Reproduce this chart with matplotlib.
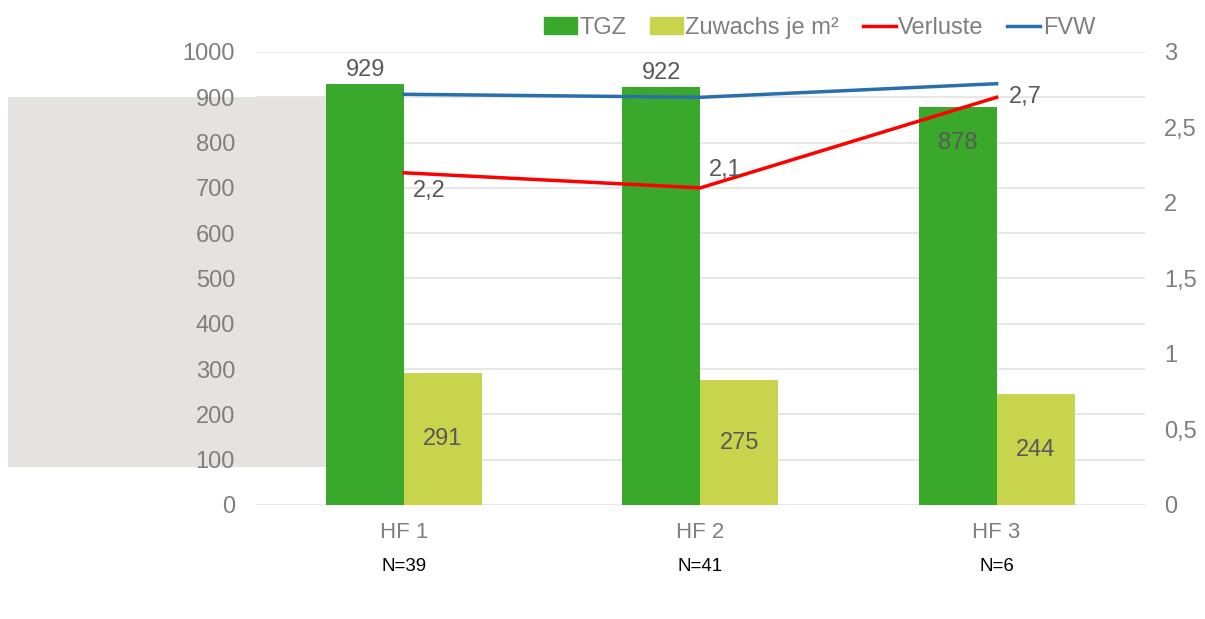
import matplotlib.pyplot as plt
from matplotlib.patches import Rectangle
from matplotlib.lines import Line2D
from matplotlib.patches import Patch

categories = ["HF 1", "HF 2", "HF 3"]
n_labels = ["N=39", "N=41", "N=6"]
tgz = [929, 922, 878]
zuwachs = [291, 275, 244]
verluste = [2.2, 2.1, 2.7]
fvw = [2.72, 2.70, 2.79]

green = "#3aa82a"
yellow = "#c8d44b"
red = "#ff0000"
blue = "#2a6fad"
grey_txt = "#7f7f7f"
lbl_txt = "#595959"

plt.rcParams["font.family"] = ["Liberation Sans", "DejaVu Sans"]

fig = plt.figure(figsize=(12.05, 6.19), dpi=100, facecolor="white")

# grey block behind the left part
fig.patches.append(Rectangle((0.0066, 0.2456), 0.264, 0.598, transform=fig.transFigure,
                             facecolor="#e4e3df", edgecolor="none", zorder=-5))

ax = fig.add_axes([0.2124, 0.1842, 0.7376, 0.7318])
ax.patch.set_alpha(0)
ax2 = ax.twinx()
ax2.patch.set_alpha(0)

x = list(range(len(categories)))
w = 0.263
ax.bar([i - w / 2 for i in x], tgz, width=w, color=green, zorder=2)
ax.bar([i + w / 2 for i in x], zuwachs, width=w, color=yellow, zorder=2)

ax.set_xlim(-0.5, 2.5)
ax.set_ylim(0, 1000)
ax.set_yticks(range(0, 1001, 100))
ax.yaxis.grid(True, color="#e3e3e3", linewidth=1.2, zorder=0)
ax.set_axisbelow(True)
for s in ax.spines.values():
    s.set_visible(False)
for s in ax2.spines.values():
    s.set_visible(False)
ax.tick_params(axis="y", length=0, labelsize=17, labelcolor=grey_txt, pad=15)
ax.set_xticks(x)
ax.set_xticklabels(categories)
ax.tick_params(axis="x", length=0, labelsize=16, labelcolor=grey_txt, pad=12)

# bar labels
for i, v in enumerate(tgz):
    if i < 2:
        ax.text(i - w / 2, v + 8, str(v), ha="center", va="bottom", fontsize=17, color=lbl_txt)
    else:
        ax.text(i - w / 2, v - 80, str(v), ha="center", va="center", fontsize=17, color=lbl_txt)
for i, v in enumerate(zuwachs):
    ax.text(i + w / 2, v / 2, str(v), ha="center", va="center", fontsize=17, color=lbl_txt)

for i, t in enumerate(n_labels):
    ax.text(i, -0.135, t, transform=ax.get_xaxis_transform(), ha="center", va="center",
            fontsize=13.5, color="black", family=["Liberation Sans Narrow", "Liberation Sans"])

ax2.plot(x, fvw, color=blue, linewidth=2.5, zorder=3)
ax2.plot(x, verluste, color=red, linewidth=2.5, zorder=3)
ax2.set_ylim(0, 3)
ax2.set_yticks([0, 0.5, 1, 1.5, 2, 2.5, 3])
ax2.set_yticklabels(["0", "0,5", "1", "1,5", "2", "2,5", "3"])
ax2.tick_params(axis="y", length=0, labelsize=17, labelcolor=grey_txt, pad=14)

offsets = [(0.03, -0.12), (0.03, 0.12), (0.04, 0.0)]
for i, v in enumerate(verluste):
    dx, dy = offsets[i]
    ax2.text(i + dx, v + dy, f"{v:.1f}".replace(".", ","), ha="left", va="center",
             fontsize=17, color=lbl_txt)

handles = [Patch(color=green), Patch(color=yellow),
           Line2D([], [], color=red, linewidth=2.5), Line2D([], [], color=blue, linewidth=2.5)]
fig.legend(handles, ["TGZ", "Zuwachs je m²", "Verluste", "FVW"], loc="center",
           bbox_to_anchor=(0.68, 0.955), ncol=4, frameon=False, fontsize=17,
           labelcolor=grey_txt, handlelength=1.4, handletextpad=0.1, columnspacing=1.0,
           handleheight=0.7)

fig.savefig("out.png", dpi=100)
